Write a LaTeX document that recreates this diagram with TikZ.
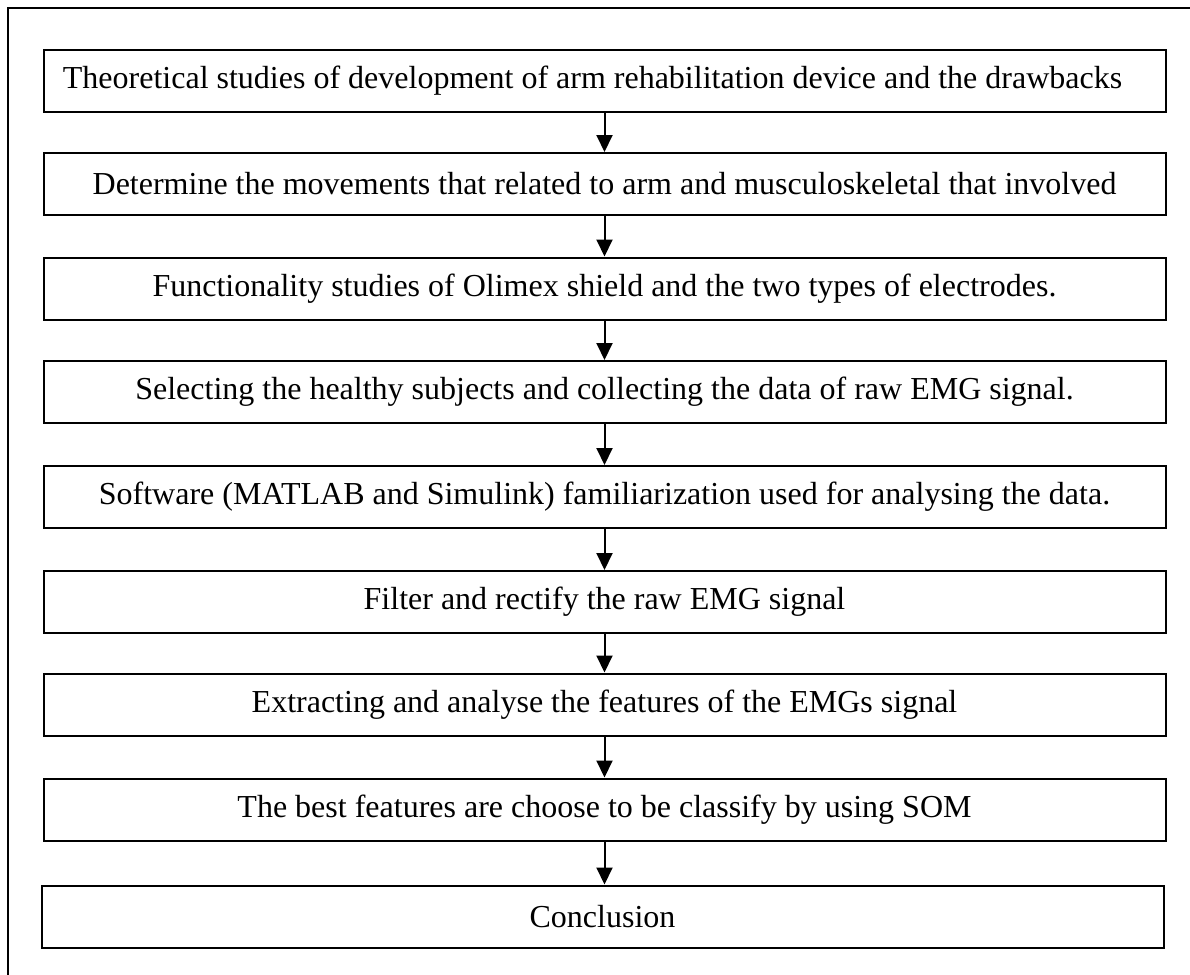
\documentclass[tikz,border=0pt]{standalone}
\usepackage{fontspec}
\setmainfont{Liberation Serif}
\usetikzlibrary{arrows.meta}

\begin{document}
\begin{tikzpicture}[x=0.5pt,y=-0.5pt]
    \pgfmathsetmacro{\boxwidth}{561}   % in pt
    \pgfmathsetmacro{\boxheight}{31}
    \pgfmathsetmacro{\midx}{604.5}
    \tikzset{
        stepbox/.style={draw,line width=1pt,minimum width=\boxwidth pt,minimum height=\boxheight pt,inner sep=0,font=\fontsize{16}{19}\selectfont},
        flowarrow/.style={line width=1pt,-{Triangle[width=8pt,length=8.5pt]}}
    }
    \clip (0,0) rectangle (1190,975);
    \draw[line width=1pt] (8,8) rectangle (1220,1000);
    \node[stepbox] (theory) at (\midx,80.5) {Theoretical studies of development of arm rehabilitation device and the drawbacks\hspace*{12pt}};
    \node[stepbox] (movement) at (\midx,184) {Determine the movements that related to arm and musculoskeletal that involved};
    \node[stepbox] (olimex) at (\midx,288.5) {Functionality studies of Olimex shield and the two types of electrodes.};
    \node[stepbox] (subjects) at (\midx,392) {Selecting the healthy subjects and collecting the data of raw EMG signal.};
    \node[stepbox] (software) at (\midx,497) {Software (MATLAB and Simulink) familiarization used for analysing the data.};
    \node[stepbox] (filter) at (\midx,602) {Filter and rectify the raw EMG signal};
    \node[stepbox] (features) at (\midx,704.5) {Extracting and analyse the features of the EMGs signal};
    \node[stepbox] (som) at (\midx,809.5) {The best features are choose to be classify by using SOM};
    \node[stepbox] (conclusion) at (\midx-2,916.5) {Conclusion};
    \draw[flowarrow] (theory) -- (movement);
    \draw[flowarrow] (movement) -- (olimex);
    \draw[flowarrow] (olimex) -- (subjects);
    \draw[flowarrow] (subjects) -- (software);
    \draw[flowarrow] (software) -- (filter);
    \draw[flowarrow] (filter) -- (features);
    \draw[flowarrow] (features) -- (som);
    \draw[flowarrow] (som.south) -- (som.south |- conclusion.north);
\end{tikzpicture}
\end{document}
